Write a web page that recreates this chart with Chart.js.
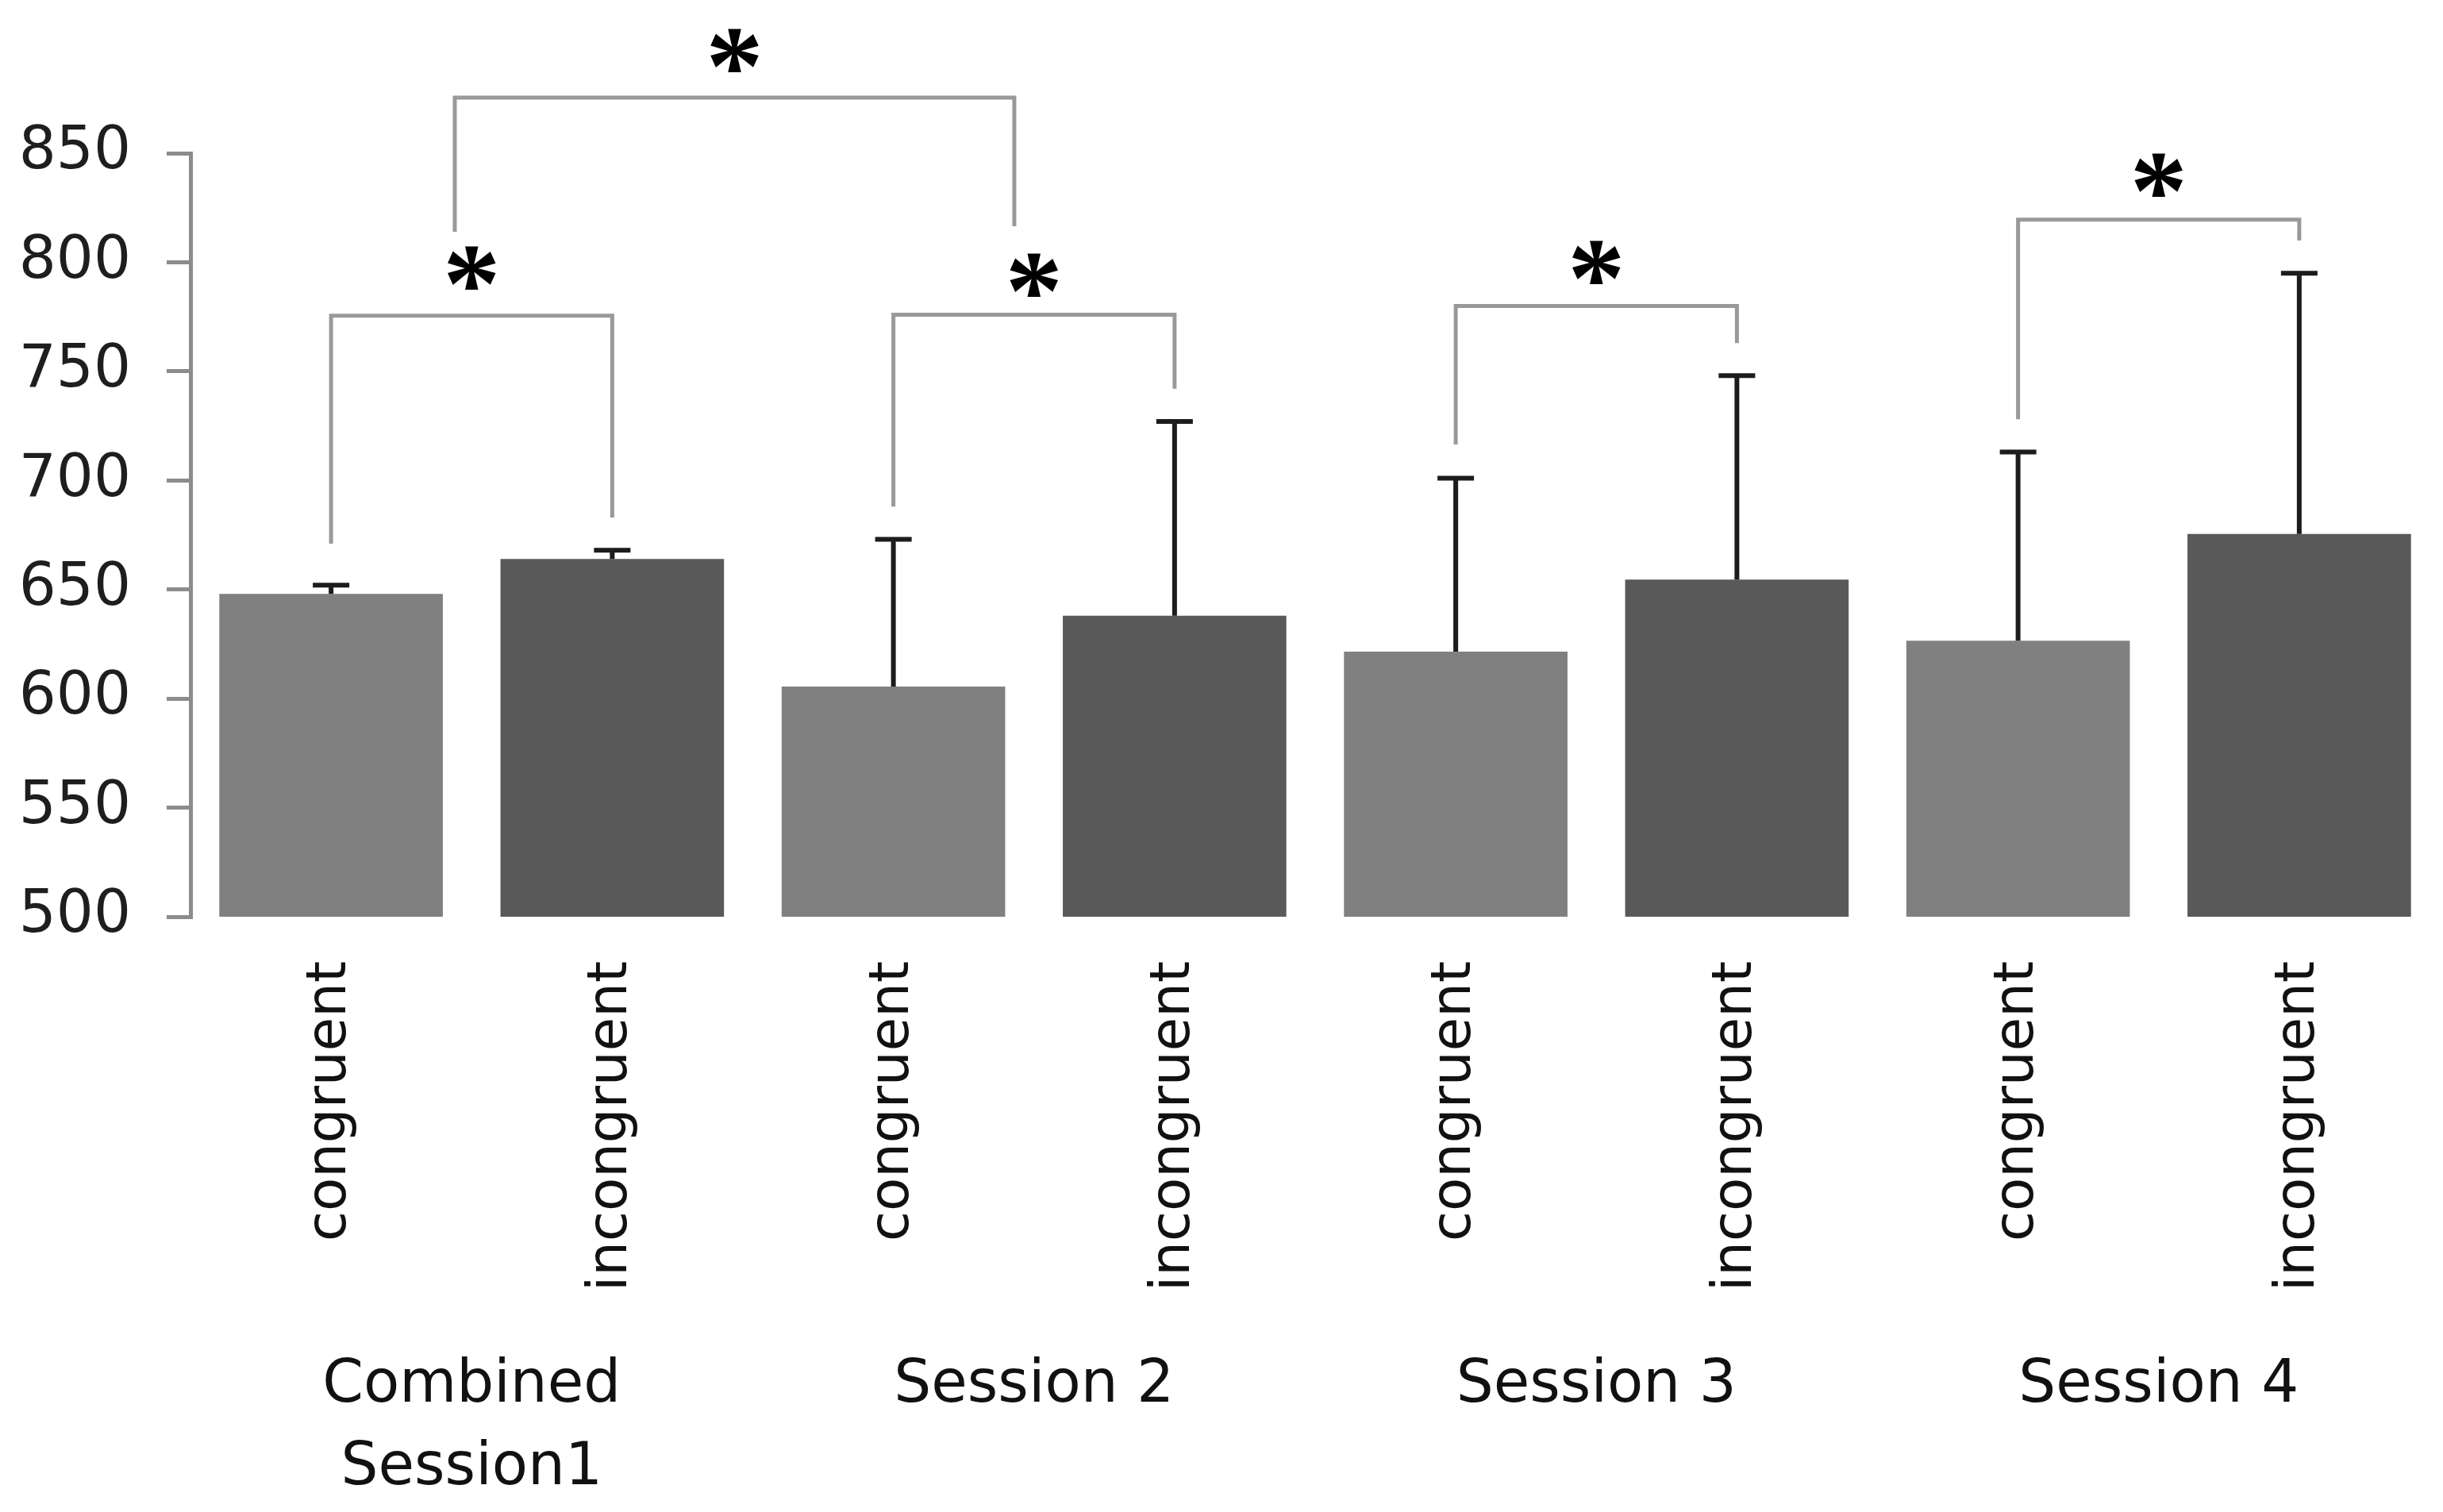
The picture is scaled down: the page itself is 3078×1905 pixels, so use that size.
<!DOCTYPE html>
<html>
<head>
<meta charset="utf-8">
<script src="https://cdn.jsdelivr.net/npm/chart.js@4.4.1/dist/chart.umd.min.js"></script>
<style>
  html, body { margin: 0; padding: 0; background: #fff; }
  canvas { display: block; }
</style>
</head>
<body>
<canvas id="rtChart" width="3078" height="1905"></canvas>
<script>
const sessions = [['Combined', 'Session1'], 'Session 2', 'Session 3', 'Session 4'];
const conditions = ['congruent', 'incongruent'];
const congruentRT = [648, 605.5, 621.5, 626.5];
const incongruentRT = [664, 638, 654.5, 675.5];
const congruentErr = [4, 67.5, 79.5, 86.5];
const incongruentErr = [4, 89, 93.5, 119.5];
const yTicks = [500, 550, 600, 650, 700, 750, 800, 850];

// significance brackets (bar index range, heights in ms)
const bracketFrom = [0, 2, 4, 6, 0.44];
const bracketTo = [1, 3, 5, 7, 2.43];
const bracketTop = [775.5, 776, 780, 819.5, 875.5];
const bracketLeftEnd = [671, 688, 716.5, 728, 814];
const bracketRightEnd = [683, 742, 763, 810, 816.5];
const starLevel = [797.5, 794, 800, 840, 897];

// one bar per session x condition
const barLabels = [];
const values = [];
const errors = [];
const colors = [];
sessions.forEach((s, i) => {
    barLabels.push(conditions[0], conditions[1]);
    values.push(congruentRT[i], incongruentRT[i]);
    errors.push(congruentErr[i], incongruentErr[i]);
    colors.push('#808080', '#595959');
});

const extras = {
    id: 'extras',
    afterDatasetsDraw(chart) {
        const ctx = chart.ctx;
        const x = chart.scales.x;
        const y = chart.scales.y;
        const meta = chart.getDatasetMeta(0);
        ctx.save();

        // error bars, upper half only
        ctx.strokeStyle = '#1c1c1c';
        ctx.lineWidth = 6;
        meta.data.forEach((bar, i) => {
            const top = y.getPixelForValue(values[i] + errors[i]);
            ctx.beginPath();
            ctx.moveTo(bar.x, bar.y);
            ctx.lineTo(bar.x, top);
            ctx.moveTo(bar.x - 23, top);
            ctx.lineTo(bar.x + 23, top);
            ctx.stroke();
        });

        // brackets
        ctx.strokeStyle = '#999999';
        ctx.lineWidth = 5;
        bracketFrom.forEach((from, i) => {
            const x1 = x.getPixelForValue(from);
            const x2 = x.getPixelForValue(bracketTo[i]);
            const yt = y.getPixelForValue(bracketTop[i]);
            ctx.beginPath();
            ctx.moveTo(x1, y.getPixelForValue(bracketLeftEnd[i]));
            ctx.lineTo(x1, yt);
            ctx.lineTo(x2, yt);
            ctx.lineTo(x2, y.getPixelForValue(bracketRightEnd[i]));
            ctx.stroke();
        });

        // stars
        ctx.fillStyle = '#000';
        ctx.font = 'bold 145px "Liberation Serif"';
        ctx.textAlign = 'center';
        ctx.textBaseline = 'alphabetic';
        const m = ctx.measureText('*');
        const shift = (m.actualBoundingBoxAscent - m.actualBoundingBoxDescent) / 2;
        bracketFrom.forEach((from, i) => {
            const cx = (x.getPixelForValue(from) + x.getPixelForValue(bracketTo[i])) / 2;
            ctx.fillText('*', cx, y.getPixelForValue(starLevel[i]) + shift);
        });
        ctx.restore();
    }
};

new Chart(document.getElementById('rtChart'), {
    type: 'bar',
    data: {
        labels: barLabels,
        datasets: [{
            data: values,
            backgroundColor: colors,
            borderWidth: 0,
            barPercentage: 0.795,
            categoryPercentage: 1
        }]
    },
    options: {
        responsive: false,
        animation: false,
        devicePixelRatio: 1,
        layout: { padding: { top: 193, left: 0, right: 4, bottom: 0 } },
        plugins: { legend: { display: false }, tooltip: { enabled: false } },
        scales: {
            x: {
                afterFit: s => { s.height = 470; },
                grid: { display: false, drawTicks: false },
                border: { display: false },
                ticks: {
                    autoSkip: false, minRotation: 90, maxRotation: 90, padding: 56,
                    color: '#111', font: { family: 'DejaVu Sans', size: 69 }
                }
            },
            x2: {
                type: 'category',
                position: 'bottom',
                labels: sessions,
                offset: true,
                weight: 1,
                afterFit: s => { s.height = 280; },
                grid: { display: false, drawTicks: false },
                border: { display: false },
                ticks: {
                    padding: 70, color: '#111',
                    font: { family: 'DejaVu Sans', size: 74, lineHeight: 1.4 }
                }
            },
            y: {
                min: 500,
                max: 850,
                afterFit: s => { s.width = 240; },
                afterBuildTicks: s => { s.ticks = yTicks.map(v => ({ value: v })); },
                grid: { drawOnChartArea: false, drawTicks: true, tickLength: 30, color: '#8c8c8c', lineWidth: 5 },
                border: { display: true, color: '#8c8c8c', width: 5 },
                ticks: { padding: 45, color: '#1e1e1e', font: { family: 'DejaVu Sans', size: 74 } }
            }
        }
    },
    plugins: [extras]
});
</script>
</body>
</html>
